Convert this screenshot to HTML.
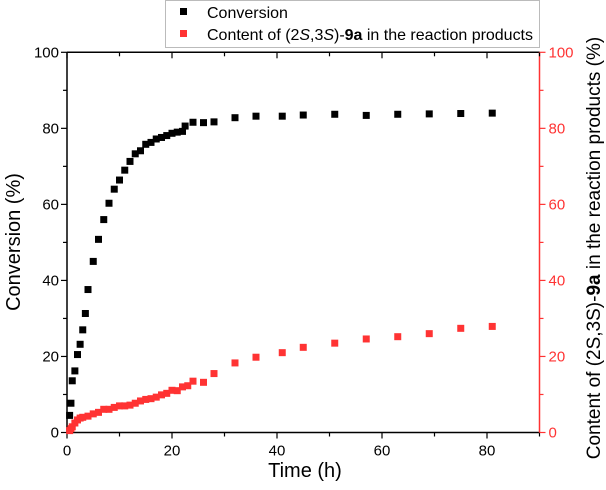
<!DOCTYPE html>
<html><head><meta charset="utf-8"><style>
body{margin:0;background:#fff;}
svg{display:block;font-family:"Liberation Sans",Arial,sans-serif;}
</style></head><body>
<svg id="chart" width="606" height="490" viewBox="0 0 606 490">
<g id="axes"></g><g id="marks"></g>
<g>
<rect x="165.5" y="0.5" width="374" height="47" fill="#fff" stroke="#bbb"/>
<rect x="180" y="8" width="7" height="7" fill="#000"/>
<text x="207" y="18" font-size="16">Conversion</text>
<rect x="180" y="30" width="7" height="7" fill="#f33"/>
<text x="207" y="40" font-size="16" textLength="326">Content of (2<tspan font-style="italic">S</tspan>,3<tspan font-style="italic">S</tspan>)-<tspan font-weight="bold">9a</tspan> in the reaction products</text>
</g>
<text x="305" y="477" font-size="20" text-anchor="middle">Time (h)</text>
<text transform="translate(20,242) rotate(-90)" font-size="20" text-anchor="middle">Conversion (%)</text>
<text transform="translate(600,248) rotate(-90)" font-size="19" text-anchor="middle">Content of (2S,3S)-<tspan font-weight="bold">9a</tspan> in the reaction products (%)</text>
</svg>
<script>
const convTime=[0.5,0.75,1,1.5,2,2.5,3,3.5,4,5,6,7,8,9,10,11,12,13,14,15,16,17,18,19,20,21,22,22.5,24,26,28,32,36,41,45,51,57,63,69,75,81];
const convValues=[4.5,7.7,13.6,16.2,20.5,23.2,27,31.3,37.6,45,50.8,56,60.3,64,66.4,69,71.3,73.3,74.1,75.8,76.3,77.2,77.6,78.1,78.7,79,79.2,80.6,81.6,81.5,81.7,82.8,83.2,83.2,83.5,83.7,83.4,83.7,83.8,83.9,84];
const contTime=[0.5,0.75,1,1.5,2,2.5,3,4,5,6,7,8,9,10,11,12,13,14,15,16,17,18,19,20,21,22,23,24,26,28,32,36,41,45,51,57,63,69,75,81];
const contValues=[0.5,1,1.5,2.5,3.3,3.8,4,4.3,4.9,5.3,6.1,6.1,6.6,7,7,7.2,7.7,8.3,8.7,8.9,9.3,9.9,10.3,11.1,11,12,12.3,13.5,13.2,15.5,18.3,19.8,21,22.4,23.5,24.6,25.2,26,27.4,27.9];
const xTicks=[0,20,40,60,80];
const yTicks=[0,20,40,60,80,100];
const L=67,R=539.5,T=52.3,B=432.5,XMAX=90;
const xs=v=>L+v/XMAX*(R-L);
const ys=v=>B-v/100*(B-T);
const NS="http://www.w3.org/2000/svg";
const ax=document.getElementById('axes'),mk=document.getElementById('marks');
function el(p,tag,a){const e=document.createElementNS(NS,tag);for(const k in a)e.setAttribute(k,a[k]);p.appendChild(e);return e;}
let e;
e=el(ax,'line',{x1:L,y1:B,x2:R,y2:B,stroke:'#000','stroke-width':1.5});


e=el(ax,'line',{x1:L,y1:T,x2:R,y2:T,stroke:'#000','stroke-width':1.5});


e=el(ax,'line',{x1:L,y1:T,x2:L,y2:B,stroke:'#000','stroke-width':1.5});


e=el(ax,'line',{x1:R,y1:T,x2:R,y2:B,stroke:'#f33','stroke-width':1.5});


for(let v=0;v<=XMAX;v+=10){const x=xs(v),len=v%20===0?6:4;
el(ax,'line',{x1:x,y1:B,x2:x,y2:B+len,stroke:'#000','stroke-width':1.2});
el(ax,'line',{x1:x,y1:T,x2:x,y2:T+len,stroke:'#000','stroke-width':1.2});}
xTicks.forEach(v=>{const t=el(ax,'text',{x:xs(v),y:B+23,'font-size':15,'text-anchor':'middle'});t.textContent=v;

});
for(let v=0;v<=100;v+=10){const y=ys(v),len=v%20===0?6:4;
el(ax,'line',{x1:L-len,y1:y,x2:L,y2:y,stroke:'#000','stroke-width':1.2});
el(ax,'line',{x1:R,y1:y,x2:R+len,y2:y,stroke:'#f33','stroke-width':1.2});}
yTicks.forEach(v=>{let t=el(ax,'text',{x:L-8,y:ys(v)+5,'font-size':15,'text-anchor':'end'});t.textContent=v;


t=el(ax,'text',{x:R+9,y:ys(v)+5,'font-size':15,fill:'#f33'});t.textContent=v;

});
convTime.forEach((t,i)=>{const r=el(mk,'rect',{x:xs(t)-3.5,y:ys(convValues[i])-3.5,width:7,height:7,fill:'#000'});

});
contTime.forEach((t,i)=>{const r=el(mk,'rect',{x:xs(t)-3.5,y:ys(contValues[i])-3.5,width:7,height:7,fill:'#f33'});

});
</script>
</body></html>
